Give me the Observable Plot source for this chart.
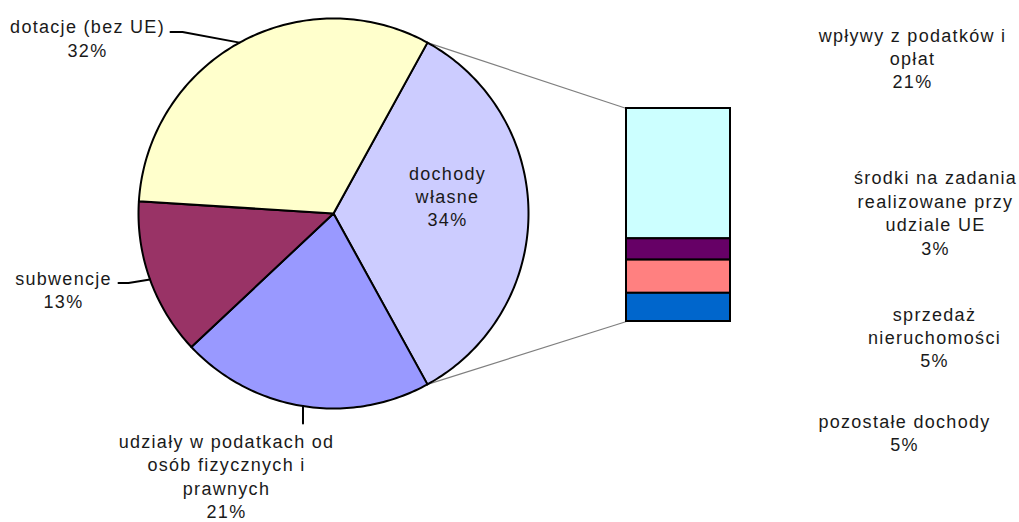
<!DOCTYPE html>
<html>
<head>
<meta charset="utf-8">
<script src="https://cdn.jsdelivr.net/npm/d3@7"></script>
<script src="https://cdn.jsdelivr.net/npm/@observablehq/plot@0.6"></script>
<style>
  html, body { margin: 0; padding: 0; background: #ffffff; }
  #chart { width: 1019px; height: 522px; overflow: hidden; }
</style>
</head>
<body>
<div id="chart"></div>
<script>
// ---- data ----
const pieNames = ["dochody własne", "udziały w podatkach od osób fizycznych i prawnych", "subwencje", "dotacje (bez UE)"];
const pieValues = [34, 21, 13, 32];
const pieLabelLines = [["dochody", "własne"], ["udziały w podatkach od", "osób fizycznych i", "prawnych"], ["subwencje"], ["dotacje (bez UE)"]];
const pieColors = ["#CCCCFF", "#9999FF", "#993366", "#FFFFCC"];

const barNames = ["wpływy z podatków i opłat", "środki na zadania realizowane przy udziale UE", "sprzedaż nieruchomości", "pozostałe dochody"];
const barValues = [20.8, 3.4, 5.3, 4.5];
const barLabelLines = [["wpływy z podatków i", "opłat"], ["środki na zadania", "realizowane przy", "udziale UE"], ["sprzedaż", "nieruchomości"], ["pozostałe dochody"]];
const barColors = ["#CCFFFF", "#660066", "#FF8080", "#0066CC"];

// ---- layout (pixels) ----
const W = 1019, H = 522;
const cx = 333, cy = 213, R = 195;
const bar = {x1: 626, x2: 730, y1: 108, y2: 321};
const pieLabelPos = [[447, 195], [226, 475], [63, 288.5], [87, 37]];
const barLabelPos = [[912, 57], [935, 211.5], [934, 336], [904, 431.5]];

function pt(deg, r) {
  const a = deg * Math.PI / 180;
  return [cx + r * Math.sin(a), cy - r * Math.cos(a)];
}

const total = d3.sum(pieValues);
const startAngle = 90 - (pieValues[0] / total) * 360 / 2;
let acc = startAngle;
const slices = pieNames.map((name, i) => {
  const a0 = acc, a1 = acc + pieValues[i] / total * 360;
  acc = a1;
  return {name, value: pieValues[i], a0, a1, mid: (a0 + a1) / 2};
});

const wedgePts = [];
for (const s of slices) {
  wedgePts.push({name: s.name, x: cx, y: cy});
  const n = Math.ceil(s.a1 - s.a0);
  for (let k = 0; k <= n; k++) {
    const a = s.a0 + (s.a1 - s.a0) * k / n;
    const [x, y] = pt(a, R);
    wedgePts.push({name: s.name, x, y});
  }
  wedgePts.push({name: s.name, x: cx, y: cy});
}

// bar segments
const barTotal = d3.sum(barValues);
const ys = d3.scaleLinear().domain([0, barTotal]).range([bar.y1, bar.y2]);
let bacc = 0;
const segs = barNames.map((name, i) => {
  const s = {name, value: barValues[i], y1: ys(bacc), y2: ys(bacc + barValues[i]), x1: bar.x1, x2: bar.x2};
  bacc += barValues[i];
  return s;
});

// connectors from the split slice to the bar
const first = slices[0];
const cA = pt(first.a0, R), cB = pt(first.a1, R);
const connectors = [
  {x1: cA[0], y1: cA[1], x2: bar.x1, y2: bar.y1},
  {x1: cB[0], y1: cB[1], x2: bar.x1, y2: bar.y2}
];

// leader lines (label anchor -> slice mid on the circle)
const leaders = [];
function addLeader(id, pts) { pts.forEach(([x, y]) => leaders.push({id, x, y})); }
{
  const p = pt(slices[3].mid, R); addLeader("dot", [[170, 31.5], [182, 31.5], p]);
  const q = pt(slices[2].mid, R); addLeader("sub", [[118, 282.5], [128, 282.5], q]);
  const r = pt(slices[1].mid, R); addLeader("udz", [[r[0], 423], r]);
}

const pct = v => Math.round(v) + "%";
const labels = [
  ...slices.map((s, i) => ({x: pieLabelPos[i][0], y: pieLabelPos[i][1], text: [...pieLabelLines[i], pct(s.value)].join("\n")})),
  ...segs.map((s, i) => ({x: barLabelPos[i][0], y: barLabelPos[i][1], text: [...barLabelLines[i], pct(s.value)].join("\n")}))
];

const chart = Plot.plot({
  width: W, height: H,
  margin: 0,
  style: {fontFamily: "'Liberation Sans', Arial, sans-serif", letterSpacing: "1.3px", background: "#ffffff"},
  x: {domain: [0, W], range: [0, W], axis: null},
  y: {domain: [0, H], range: [0, H], axis: null},
  color: {domain: [...pieNames, ...barNames], range: [...pieColors, ...barColors]},
  marks: [
    Plot.link(connectors, {x1: "x1", y1: "y1", x2: "x2", y2: "y2", stroke: "#7f7f7f", strokeWidth: 1.2}),
    Plot.line(wedgePts, {x: "x", y: "y", z: "name", fill: "name", stroke: "#000", strokeWidth: 2, strokeLinejoin: "round"}),
    Plot.rect(segs, {x1: "x1", x2: "x2", y1: "y1", y2: "y2", fill: "name", stroke: "#000", strokeWidth: 2}),
    Plot.line(leaders, {x: "x", y: "y", z: "id", stroke: "#000", strokeWidth: 2}),
    Plot.text(labels, {x: "x", y: "y", text: "text", fontSize: 18, lineHeight: 1.3, lineAnchor: "middle", textAnchor: "middle", fill: "#1a1a1a"})
  ]
});
document.getElementById("chart").appendChild(chart);
</script>
</body>
</html>
